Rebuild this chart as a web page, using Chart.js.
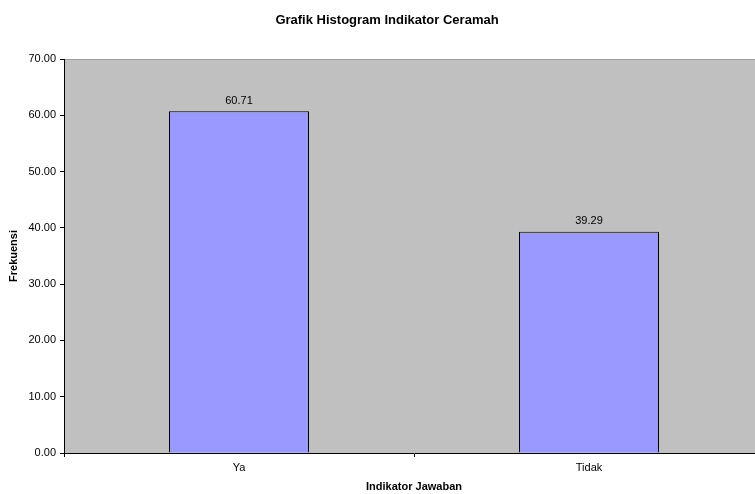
<!DOCTYPE html>
<html>
<head>
<meta charset="utf-8">
<script src="https://cdn.jsdelivr.net/npm/chart.js@4"></script>
<style>
html,body{margin:0;padding:0;overflow:hidden;background:#fff;}
#wrap{width:782px;height:494px;position:relative;}
</style>
</head>
<body>
<div id="wrap"><canvas id="c"></canvas></div>
<script>
const categories = ["Ya", "Tidak"];
const values = [60.71, 39.29];
const yTicks = [0, 10, 20, 30, 40, 50, 60, 70];
const chartTitle = "Grafik Histogram Indikator Ceramah";
const xTitle = "Indikator Jawaban";
const yTitle = "Frekuensi";

const FONT = "'Liberation Sans', Arial, sans-serif";

const decor = {
  id: 'decor',
  beforeDraw(chart) {
    const {ctx, chartArea: a} = chart;
    ctx.save();
    ctx.fillStyle = '#C0C0C0';
    ctx.fillRect(a.left, a.top, a.right - a.left, a.bottom - a.top);
    ctx.strokeStyle = '#A0A0A0';
    ctx.lineWidth = 1;
    ctx.beginPath();
    ctx.moveTo(a.left, a.top + 0.5);
    ctx.lineTo(a.right, a.top + 0.5);
    ctx.stroke();
    ctx.restore();
  },
  afterDraw(chart) {
    const {ctx, chartArea: a} = chart;
    ctx.save();
    ctx.fillStyle = '#000';
    ctx.textAlign = 'center';
    ctx.textBaseline = 'middle';
    ctx.font = 'bold 13px ' + FONT;
    ctx.fillText(chartTitle, 387, 20);
    ctx.font = 'bold 11px ' + FONT;
    ctx.fillText(xTitle, (a.left + a.right) / 2, 487);
    ctx.save();
    ctx.translate(14, (a.top + a.bottom) / 2);
    ctx.rotate(-Math.PI / 2);
    ctx.fillText(yTitle, 0, 0);
    ctx.restore();
    ctx.font = '11px ' + FONT;
    ctx.textBaseline = 'bottom';
    const meta = chart.getDatasetMeta(0);
    meta.data.forEach((bar, i) => {
      ctx.fillText(values[i].toFixed(2), bar.x, bar.y - 5);
    });
    ctx.restore();
  }
};

new Chart(document.getElementById('c'), {
  type: 'bar',
  data: {
    labels: categories,
    datasets: [{
      data: values,
      backgroundColor: '#9999FF',
      borderColor: '#000',
      borderWidth: 1,
      barPercentage: 0.4,
      categoryPercentage: 1.0
    }]
  },
  options: {
    responsive: true,
    maintainAspectRatio: false,
    animation: false,
    layout: {padding: {left: 0, top: 59, right: 18, bottom: 0}},
    plugins: {legend: {display: false}, title: {display: false}, tooltip: {enabled: false}},
    scales: {
      x: {
        afterFit(s) { s.height = 41; },
        border: {display: true, color: '#000', width: 1},
        grid: {display: true, drawOnChartArea: false, drawTicks: true, tickLength: 4, color: '#000', offset: true},
        ticks: {color: '#000', font: {family: FONT, size: 11}, padding: 4}
      },
      y: {
        min: 0, max: 70,
        afterFit(s) { s.width = 64; },
        afterBuildTicks(s) { s.ticks = yTicks.map(v => ({value: v})); },
        border: {display: true, color: '#000', width: 1},
        grid: {display: true, drawOnChartArea: false, drawTicks: true, tickLength: 4, color: '#000'},
        ticks: {color: '#000', font: {family: FONT, size: 11}, padding: 4,
          callback: v => Number(v).toFixed(2)}
      }
    }
  },
  plugins: [decor]
});
</script>
</body>
</html>
